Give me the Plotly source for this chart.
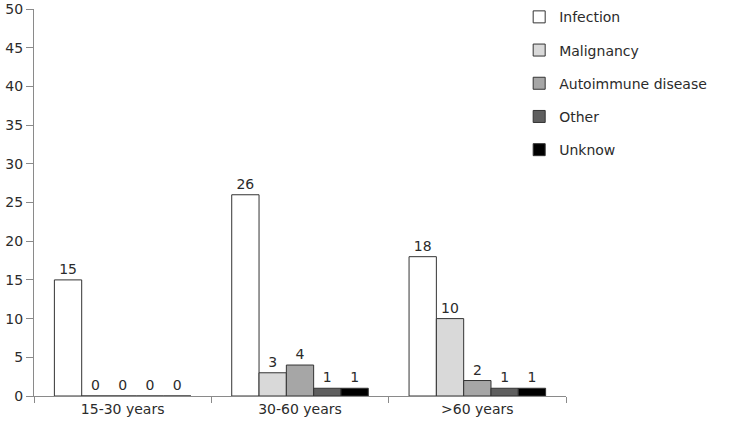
import plotly.graph_objects as go

categories = ["15-30 years", "30-60 years", ">60 years"]
series_names = ["Infection", "Malignancy", "Autoimmune disease", "Other", "Unknow"]
infection = [15, 26, 18]
malignancy = [0, 3, 10]
autoimmune = [0, 4, 2]
other = [0, 1, 1]
unknow = [0, 1, 1]
y_ticks = [0, 5, 10, 15, 20, 25, 30, 35, 40, 45, 50]

values = [infection, malignancy, autoimmune, other, unknow]
colors = ["#ffffff", "#d9d9d9", "#a6a6a6", "#5f5f5f", "#000000"]

FONT = "DejaVu Sans"
TXT = "#2b2b2b"
AX = "#8a8a8a"

fig = go.Figure()
for i, (name, vals, col) in enumerate(zip(series_names, values, colors)):
    fig.add_trace(go.Bar(
        x=categories, y=vals, name=name, legendgroup=f"g{i}",
        marker=dict(color=col, line=dict(color="#333333", width=1)),
        text=[str(v) for v in vals], textposition="outside",
        textfont=dict(family=FONT, size=14, color=TXT),
        cliponaxis=False,
    ))

fig.update_layout(
    width=750, height=425,
    margin=dict(l=34, r=184, t=9, b=29, autoexpand=False),
    paper_bgcolor="white", plot_bgcolor="white",
    barmode="group", bargap=0.23, bargroupgap=0,
    font=dict(family=FONT, size=14, color=TXT),
    showlegend=True,
    legend=dict(x=0.912, y=1.02, xanchor="left", yanchor="top",
                tracegroupgap=12, font=dict(family=FONT, size=14, color=TXT),
                bgcolor="rgba(0,0,0,0)", itemwidth=30),
    xaxis=dict(showline=True, linecolor=AX, linewidth=1, ticks="outside",
               tickson="boundaries", ticklen=6, tickcolor=AX,
               showgrid=False, zeroline=False, automargin=False,
               tickfont=dict(family=FONT, size=14, color=TXT)),
    yaxis=dict(range=[0, 50], tickvals=y_ticks, showline=True, linecolor=AX,
               linewidth=1, ticks="outside", ticklen=7, tickcolor=AX,
               showgrid=False, zeroline=False, automargin=False,
               tickfont=dict(family=FONT, size=14, color=TXT)),
)

fig.write_html("out.html", config={"displayModeBar": False},
               post_script="document.body.style.margin='0';")
